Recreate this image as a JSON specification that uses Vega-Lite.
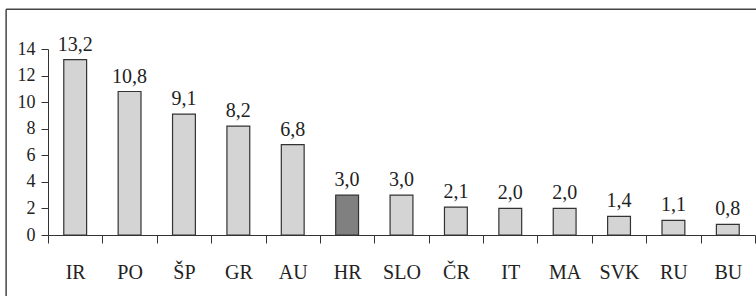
{
  "$schema": "https://vega.github.io/schema/vega-lite/v6.json",
  "autosize": {"type": "none"},
  "padding": {"left": 48, "top": 49, "right": 1, "bottom": 61},
  "width": 707,
  "height": 186,
  "background": "white",
  "config": {
    "view": {"stroke": null},
    "font": "Liberation Serif",
    "axis": {
      "title": null, "grid": false, "labelFont": "Liberation Serif", "labelColor": "#222",
      "tickColor": "#333", "domainColor": "#333", "tickWidth": 1, "domainWidth": 1
    },
    "axisX": {"labelAngle": 0, "tickBand": "extent", "labelFontSize": 20, "labelPadding": 19, "tickSize": 8},
    "axisY": {"labelFontSize": 18, "labelPadding": 6, "tickSize": 7}
  },
  "data": {
    "values": [
      {"c": "IR", "v": 13.2, "t": "13,2"},
      {"c": "PO", "v": 10.8, "t": "10,8"},
      {"c": "ŠP", "v": 9.1, "t": "9,1"},
      {"c": "GR", "v": 8.2, "t": "8,2"},
      {"c": "AU", "v": 6.8, "t": "6,8"},
      {"c": "HR", "v": 3.0, "t": "3,0"},
      {"c": "SLO", "v": 3.0, "t": "3,0"},
      {"c": "ČR", "v": 2.1, "t": "2,1"},
      {"c": "IT", "v": 2.0, "t": "2,0"},
      {"c": "MA", "v": 2.0, "t": "2,0"},
      {"c": "SVK", "v": 1.4, "t": "1,4"},
      {"c": "RU", "v": 1.1, "t": "1,1"},
      {"c": "BU", "v": 0.8, "t": "0,8"}
    ]
  },
  "encoding": {
    "x": {
      "field": "c", "type": "nominal", "sort": null,
      "scale": {"paddingInner": 0, "paddingOuter": 0},
      "axis": {"title": null}
    },
    "y": {
      "field": "v", "type": "quantitative",
      "scale": {"domain": [0, 14], "nice": false},
      "axis": {"title": null, "values": [0, 2, 4, 6, 8, 10, 12, 14]}
    }
  },
  "layer": [
    {
      "mark": {"type": "bar", "width": {"band": 0.42}, "stroke": "#333", "strokeWidth": 1.2},
      "encoding": {
        "fill": {
          "condition": {"test": "datum.c === 'HR'", "value": "#808080"},
          "value": "#d4d4d4"
        }
      }
    },
    {
      "mark": {"type": "text", "baseline": "alphabetic", "dy": -9, "fontSize": 20, "font": "Liberation Serif", "color": "#222"},
      "encoding": {"text": {"field": "t"}}
    },
    {
      "data": {"values": [{"b": "IR", "e": "BU", "top": 17.0, "bot": -10}]},
      "mark": {"type": "rule", "stroke": "#444", "strokeWidth": 1.5, "clip": false},
      "encoding": {
        "x": {"field": "b", "type": "nominal", "sort": null, "bandPosition": -0.77, "axis": {"title": null}},
        "y": {"field": "top", "type": "quantitative", "axis": {"title": null, "values": [0, 2, 4, 6, 8, 10, 12, 14]}},
        "y2": {"field": "bot"}
      }
    },
    {
      "data": {"values": [{"b": "IR", "e": "BU", "top": 17.0, "bot": -10}]},
      "mark": {"type": "rule", "stroke": "#444", "strokeWidth": 1.5, "clip": false},
      "encoding": {
        "x": {"field": "b", "type": "nominal", "sort": null, "bandPosition": -0.77, "axis": {"title": null}},
        "x2": {"field": "e", "bandPosition": 3},
        "y": {"field": "top", "type": "quantitative", "axis": {"title": null, "values": [0, 2, 4, 6, 8, 10, 12, 14]}}
      }
    }
  ]
}
